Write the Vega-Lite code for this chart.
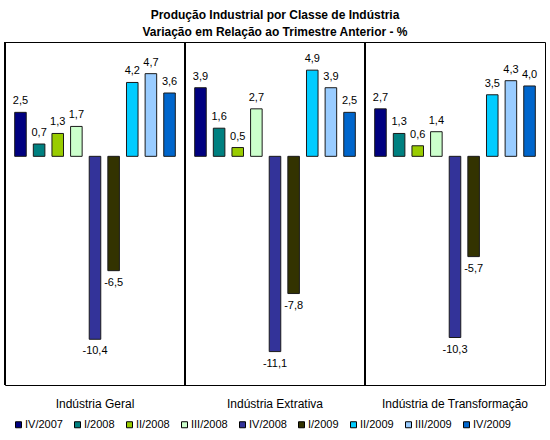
{
  "$schema": "https://vega.github.io/schema/vega-lite/v6.json",
  "width": 540,
  "height": 343,
  "autosize": "none",
  "padding": {"left": 5, "top": 42, "right": 5, "bottom": 55},
  "background": "white",
  "title": {
    "text": ["Produção Industrial por Classe de Indústria", "Variação em Relação ao Trimestre Anterior - %"],
    "font": "Liberation Sans",
    "fontSize": 12,
    "fontWeight": "bold",
    "color": "#000000",
    "lineHeight": 17,
    "offset": 3,
    "anchor": "middle"
  },
  "config": {
    "locale": {
      "number": {"decimal": ",", "thousands": ".", "grouping": [3], "currency": ["R$", ""], "minus": "-"}
    },
    "view": {"stroke": "#000000", "strokeWidth": 1},
    "font": "Liberation Sans"
  },
  "data": {
    "values": [
      {"panel": "Indústria Geral", "serie": "IV/2007", "value": 2.5},
      {"panel": "Indústria Geral", "serie": "I/2008", "value": 0.7},
      {"panel": "Indústria Geral", "serie": "II/2008", "value": 1.3},
      {"panel": "Indústria Geral", "serie": "III/2008", "value": 1.7},
      {"panel": "Indústria Geral", "serie": "IV/2008", "value": -10.4},
      {"panel": "Indústria Geral", "serie": "I/2009", "value": -6.5},
      {"panel": "Indústria Geral", "serie": "II/2009", "value": 4.2},
      {"panel": "Indústria Geral", "serie": "III/2009", "value": 4.7},
      {"panel": "Indústria Geral", "serie": "IV/2009", "value": 3.6},
      {"panel": "Indústria Extrativa", "serie": "IV/2007", "value": 3.9},
      {"panel": "Indústria Extrativa", "serie": "I/2008", "value": 1.6},
      {"panel": "Indústria Extrativa", "serie": "II/2008", "value": 0.5},
      {"panel": "Indústria Extrativa", "serie": "III/2008", "value": 2.7},
      {"panel": "Indústria Extrativa", "serie": "IV/2008", "value": -11.1},
      {"panel": "Indústria Extrativa", "serie": "I/2009", "value": -7.8},
      {"panel": "Indústria Extrativa", "serie": "II/2009", "value": 4.9},
      {"panel": "Indústria Extrativa", "serie": "III/2009", "value": 3.9},
      {"panel": "Indústria Extrativa", "serie": "IV/2009", "value": 2.5},
      {"panel": "Indústria de Transformação", "serie": "IV/2007", "value": 2.7},
      {"panel": "Indústria de Transformação", "serie": "I/2008", "value": 1.3},
      {"panel": "Indústria de Transformação", "serie": "II/2008", "value": 0.6},
      {"panel": "Indústria de Transformação", "serie": "III/2008", "value": 1.4},
      {"panel": "Indústria de Transformação", "serie": "IV/2008", "value": -10.3},
      {"panel": "Indústria de Transformação", "serie": "I/2009", "value": -5.7},
      {"panel": "Indústria de Transformação", "serie": "II/2009", "value": 3.5},
      {"panel": "Indústria de Transformação", "serie": "III/2009", "value": 4.3},
      {"panel": "Indústria de Transformação", "serie": "IV/2009", "value": 4.0}
    ]
  },
  "encoding": {
    "x": {
      "field": "panel",
      "type": "nominal",
      "sort": ["Indústria Geral", "Indústria Extrativa", "Indústria de Transformação"],
      "scale": {"paddingInner": 0, "paddingOuter": 0},
      "axis": {
        "title": null,
        "domain": false,
        "ticks": false,
        "labelAngle": 0,
        "labelPadding": 13,
        "labelFont": "Liberation Sans",
        "labelFontSize": 12,
        "labelColor": "#000000"
      }
    }
  },
  "layer": [
    {
      "mark": {"type": "rule", "color": "#000000", "strokeWidth": 1},
      "encoding": {
        "x": {"field": "panel", "type": "nominal", "bandPosition": 0,
              "sort": ["Indústria Geral", "Indústria Extrativa", "Indústria de Transformação"]}
      }
    },
    {
      "mark": {"type": "bar", "stroke": "#1a1a1a", "strokeWidth": 1},
      "encoding": {
        "xOffset": {
          "field": "serie",
          "type": "nominal",
          "sort": ["IV/2007", "I/2008", "II/2008", "III/2008", "IV/2008", "I/2009", "II/2009", "III/2009", "IV/2009"],
          "scale": {"paddingInner": 0.38, "paddingOuter": 0.52}
        },
        "y": {
          "field": "value",
          "type": "quantitative",
          "scale": {"domain": [-13, 6.5], "nice": false, "zero": false},
          "axis": null
        },
        "color": {
          "field": "serie",
          "type": "nominal",
          "sort": ["IV/2007", "I/2008", "II/2008", "III/2008", "IV/2008", "I/2009", "II/2009", "III/2009", "IV/2009"],
          "scale": {
            "domain": ["IV/2007", "I/2008", "II/2008", "III/2008", "IV/2008", "I/2009", "II/2009", "III/2009", "IV/2009"],
            "range": ["#000080", "#008080", "#99CC00", "#CCFFCC", "#333399", "#333300", "#00CCFF", "#99CCFF", "#0066CC"]
          },
          "legend": {
            "title": null,
            "orient": "none",
            "legendX": 8,
            "legendY": 377,
            "direction": "horizontal",
            "columns": 9,
            "columnPadding": 9,
            "symbolType": "square",
            "symbolSize": 36,
            "symbolStrokeColor": "#000000",
            "symbolStrokeWidth": 1,
            "labelFont": "Liberation Sans",
            "labelFontSize": 11,
            "labelColor": "#000000",
            "labelOffset": 1
          }
        }
      }
    },
    {
      "transform": [{"filter": "datum.value >= 0"}],
      "mark": {"type": "text", "baseline": "bottom", "dy": -6, "fontSize": 11, "font": "Liberation Sans", "color": "#000000"},
      "encoding": {
        "xOffset": {
          "field": "serie",
          "type": "nominal",
          "sort": ["IV/2007", "I/2008", "II/2008", "III/2008", "IV/2008", "I/2009", "II/2009", "III/2009", "IV/2009"]
        },
        "y": {"field": "value", "type": "quantitative"},
        "text": {"field": "value", "type": "quantitative", "format": ".1f"}
      }
    },
    {
      "transform": [{"filter": "datum.value < 0"}],
      "mark": {"type": "text", "baseline": "top", "dy": 6, "fontSize": 11, "font": "Liberation Sans", "color": "#000000"},
      "encoding": {
        "xOffset": {
          "field": "serie",
          "type": "nominal",
          "sort": ["IV/2007", "I/2008", "II/2008", "III/2008", "IV/2008", "I/2009", "II/2009", "III/2009", "IV/2009"]
        },
        "y": {"field": "value", "type": "quantitative"},
        "text": {"field": "value", "type": "quantitative", "format": ".1f"}
      }
    },
    {
      "mark": {"type": "rule", "color": "#000000", "strokeWidth": 1},
      "encoding": {
        "y": {"datum": 0, "type": "quantitative"}
      }
    }
  ]
}
